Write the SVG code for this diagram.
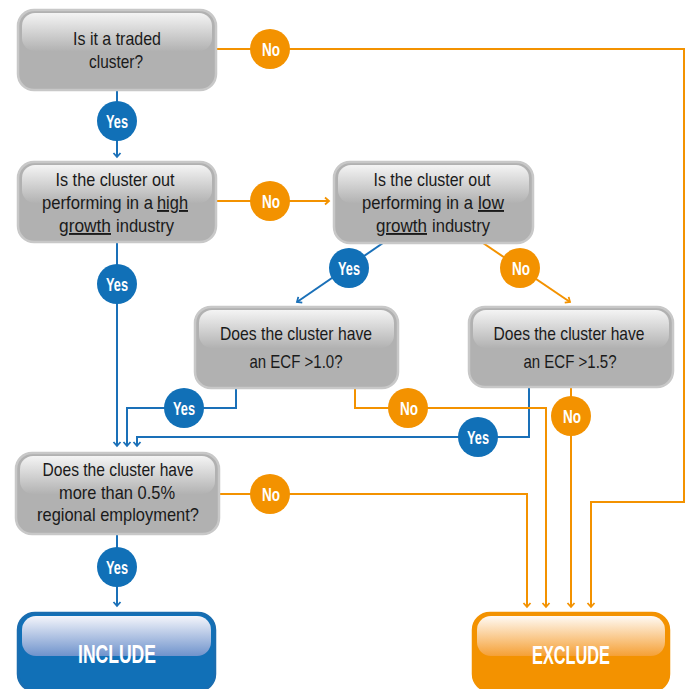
<svg xmlns="http://www.w3.org/2000/svg" width="688" height="689" viewBox="0 0 688 689">
<defs>
<linearGradient id="gHi" x1="0" y1="0" x2="0" y2="1">
<stop offset="0" stop-color="#f4f4f4"/>
<stop offset="1" stop-color="#b2b2b2"/>
</linearGradient>
<linearGradient id="bHi" x1="0" y1="0" x2="0" y2="1">
<stop offset="0" stop-color="#f4f5fb"/>
<stop offset="1" stop-color="#6f93cc"/>
</linearGradient>
<linearGradient id="oHi" x1="0" y1="0" x2="0" y2="1">
<stop offset="0" stop-color="#fffaf4"/>
<stop offset="1" stop-color="#f5a035"/>
</linearGradient>
<marker id="aB" viewBox="-1 -5 7 10" refX="4" refY="0" markerWidth="7" markerHeight="10" markerUnits="userSpaceOnUse" orient="auto">
<path d="M0,-3.5 L4,0 L0,3.5" fill="none" stroke="#1a70b8" stroke-width="1.8"/>
</marker>
<marker id="aO" viewBox="-1 -5 7 10" refX="4" refY="0" markerWidth="7" markerHeight="10" markerUnits="userSpaceOnUse" orient="auto">
<path d="M0,-3.5 L4,0 L0,3.5" fill="none" stroke="#f39200" stroke-width="1.8"/>
</marker>
</defs>
<style>
.box{fill:#b1b1b1;stroke:#c8c8c8;stroke-width:2.5}
.hi{fill:url(#gHi)}
.t{font-family:"Liberation Sans",Arial,sans-serif;font-size:19px;fill:#1a1a1a;text-anchor:middle}
.s{text-anchor:start}
.lb{font-family:"Liberation Sans",Arial,sans-serif;font-size:19px;font-weight:bold;fill:#ffffff;text-anchor:middle}
.big{font-family:"Liberation Sans",Arial,sans-serif;font-size:25px;font-weight:bold;fill:#ffffff;text-anchor:middle}
.cb{fill:#1170b7}
.co{fill:#f39200}
.lnB{fill:none;stroke:#1a70b8;stroke-width:2}
.lnO{fill:none;stroke:#f39200;stroke-width:2}
.u{text-decoration:underline}
</style>
<g id="connectors">
<path class="lnB" d="M117,90 V157" marker-end="url(#aB)"/>
<path class="lnO" d="M216,49 H684 V502 H591 V607" marker-end="url(#aO)"/>
<path class="lnO" d="M216,201 H329" marker-end="url(#aO)"/>
<path class="lnB" d="M117,242 V446" marker-end="url(#aB)"/>
<path class="lnB" d="M383,243 L297,302" marker-end="url(#aB)"/>
<path class="lnO" d="M483,243 L570,302" marker-end="url(#aO)"/>
<path class="lnB" d="M236,388 V408 H127 V446" marker-end="url(#aB)"/>
<path class="lnB" d="M529,387 V437 H137 V446" marker-end="url(#aB)"/>
<path class="lnO" d="M355,388 V408 H546 V607" marker-end="url(#aO)"/>
<path class="lnO" d="M571,387 V607" marker-end="url(#aO)"/>
<path class="lnO" d="M219,494 H527 V607" marker-end="url(#aO)"/>
<path class="lnB" d="M117,534 V606" marker-end="url(#aB)"/>
<g id="labels">
<circle class="cb" cx="117" cy="121" r="20"/><text class="lb" x="117" y="128" textLength="22" lengthAdjust="spacingAndGlyphs">Yes</text>
<circle class="co" cx="270" cy="49" r="20"/><text class="lb" x="271" y="56" textLength="18" lengthAdjust="spacingAndGlyphs">No</text>
<circle class="co" cx="270" cy="201" r="20"/><text class="lb" x="271" y="208" textLength="18" lengthAdjust="spacingAndGlyphs">No</text>
<circle class="cb" cx="117" cy="284" r="20"/><text class="lb" x="117" y="291" textLength="22" lengthAdjust="spacingAndGlyphs">Yes</text>
<circle class="cb" cx="349" cy="268" r="20"/><text class="lb" x="349" y="275" textLength="22" lengthAdjust="spacingAndGlyphs">Yes</text>
<circle class="co" cx="520" cy="268" r="20"/><text class="lb" x="521" y="275" textLength="18" lengthAdjust="spacingAndGlyphs">No</text>
<circle class="cb" cx="184" cy="408" r="20"/><text class="lb" x="184" y="415" textLength="22" lengthAdjust="spacingAndGlyphs">Yes</text>
<circle class="co" cx="408" cy="408" r="20"/><text class="lb" x="409" y="415" textLength="18" lengthAdjust="spacingAndGlyphs">No</text>
<circle class="cb" cx="478" cy="437" r="20"/><text class="lb" x="478" y="444" textLength="22" lengthAdjust="spacingAndGlyphs">Yes</text>
<circle class="co" cx="571" cy="416" r="20"/><text class="lb" x="572" y="423" textLength="18" lengthAdjust="spacingAndGlyphs">No</text>
<circle class="co" cx="270" cy="494" r="20"/><text class="lb" x="271" y="501" textLength="18" lengthAdjust="spacingAndGlyphs">No</text>
<circle class="cb" cx="117" cy="567" r="20"/><text class="lb" x="117" y="574" textLength="22" lengthAdjust="spacingAndGlyphs">Yes</text>
</g>
</g>
<g id="n1">
<rect class="box" x="18" y="10" width="198" height="80" rx="16"/>
<rect class="hi" x="22" y="13" width="190" height="38" rx="13"/>
<text class="t" x="117" y="45" textLength="88" lengthAdjust="spacingAndGlyphs">Is it a traded</text>
<text class="t" x="116" y="68" textLength="54" lengthAdjust="spacingAndGlyphs">cluster?</text>
</g>
<g id="n2">
<rect class="box" x="18" y="162" width="198" height="80" rx="16"/>
<rect class="hi" x="22" y="165" width="190" height="38" rx="13"/>
<text class="t" x="115" y="186" textLength="119" lengthAdjust="spacingAndGlyphs">Is the cluster out</text>
<text class="t s" x="42" y="209" textLength="111" lengthAdjust="spacingAndGlyphs">performing in a</text>
<text class="t s u" x="157" y="209" textLength="31" lengthAdjust="spacingAndGlyphs">high</text>
<text class="t s u" x="59" y="232" textLength="52" lengthAdjust="spacingAndGlyphs">growth</text>
<text class="t s" x="116" y="232" textLength="58" lengthAdjust="spacingAndGlyphs">industry</text>
</g>
<g id="n3">
<rect class="box" x="334" y="162" width="199" height="81" rx="16"/>
<rect class="hi" x="338" y="165" width="191" height="38" rx="13"/>
<text class="t" x="432" y="186" textLength="117" lengthAdjust="spacingAndGlyphs">Is the cluster out</text>
<text class="t s" x="362" y="209" textLength="111" lengthAdjust="spacingAndGlyphs">performing in a</text>
<text class="t s u" x="478" y="209" textLength="26" lengthAdjust="spacingAndGlyphs">low</text>
<text class="t s u" x="376" y="232" textLength="51" lengthAdjust="spacingAndGlyphs">growth</text>
<text class="t s" x="432" y="232" textLength="58" lengthAdjust="spacingAndGlyphs">industry</text>
</g>
<g id="n4">
<rect class="box" x="195" y="307" width="203" height="81" rx="16"/>
<rect class="hi" x="199" y="310" width="195" height="38" rx="13"/>
<text class="t" x="296" y="340" textLength="152" lengthAdjust="spacingAndGlyphs">Does the cluster have</text>
<text class="t" x="296" y="368" textLength="93" lengthAdjust="spacingAndGlyphs">an ECF &gt;1.0?</text>
</g>
<g id="n5">
<rect class="box" x="469" y="307" width="204" height="80" rx="16"/>
<rect class="hi" x="473" y="310" width="196" height="38" rx="13"/>
<text class="t" x="569" y="340" textLength="151" lengthAdjust="spacingAndGlyphs">Does the cluster have</text>
<text class="t" x="570" y="368" textLength="93" lengthAdjust="spacingAndGlyphs">an ECF &gt;1.5?</text>
</g>
<g id="n6">
<rect class="box" x="16" y="453" width="203" height="81" rx="16"/>
<rect class="hi" x="20" y="456" width="195" height="38" rx="13"/>
<text class="t" x="118" y="476" textLength="151" lengthAdjust="spacingAndGlyphs">Does the cluster have</text>
<text class="t" x="117" y="499" textLength="116" lengthAdjust="spacingAndGlyphs">more than 0.5%</text>
<text class="t" x="118" y="521" textLength="162" lengthAdjust="spacingAndGlyphs">regional employment?</text>
</g>
<g id="include">
<rect x="18" y="613" width="197" height="78" rx="17" fill="#1170b7" stroke="#1a6db0" stroke-width="2.5"/>
<rect x="22" y="616" width="189" height="40" rx="14" fill="url(#bHi)"/>
<text class="big" x="117" y="663" textLength="78" lengthAdjust="spacingAndGlyphs">INCLUDE</text>
</g>
<g id="exclude">
<rect x="473" y="613" width="196" height="78" rx="17" fill="#f39200" stroke="#f39200" stroke-width="2.5"/>
<rect x="477" y="616" width="188" height="40" rx="14" fill="url(#oHi)"/>
<text class="big" x="571" y="664" textLength="78" lengthAdjust="spacingAndGlyphs">EXCLUDE</text>
</g>
</svg>
